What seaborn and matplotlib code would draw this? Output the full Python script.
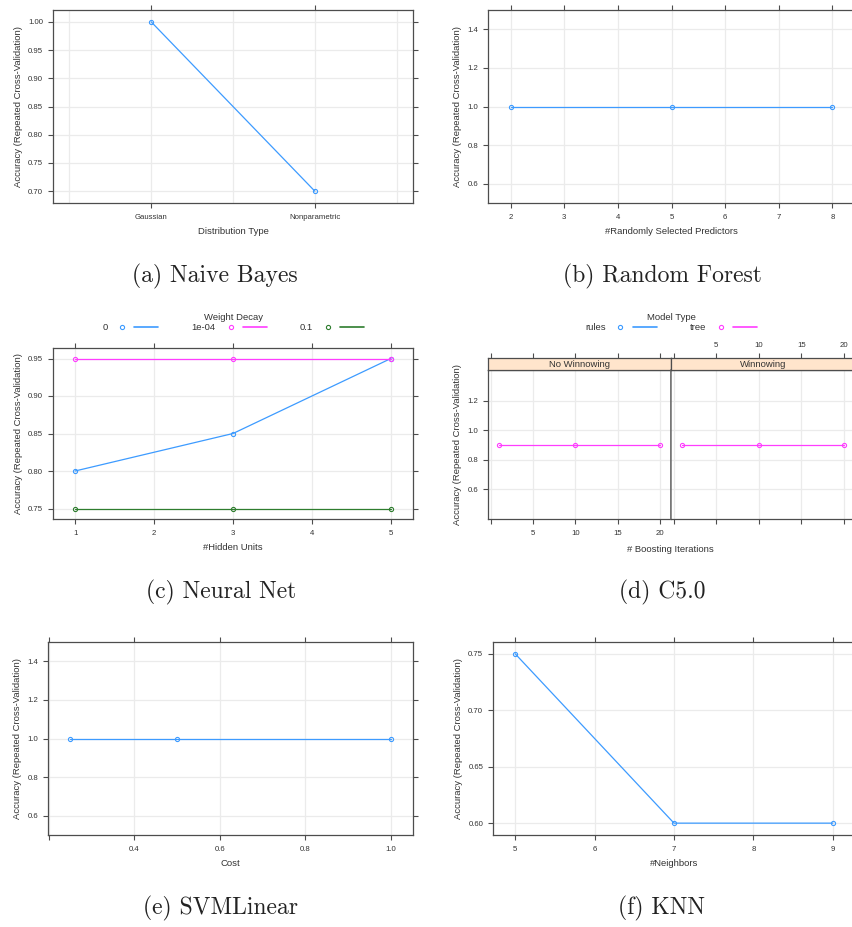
import numpy as np
import pandas as pd
import matplotlib
matplotlib.use("Agg")
import matplotlib.pyplot as plt
import seaborn as sns
from matplotlib.lines import Line2D
from matplotlib.legend_handler import HandlerTuple
from matplotlib.ticker import FormatStrFormatter

# (a) Naive Bayes
nb_types = ["Gaussian", "Nonparametric"]
nb_acc = [1.00, 0.70]

# (b) Random Forest
rf_mtry = [2, 5, 8]
rf_acc = [1.0, 1.0, 1.0]

# (c) Neural Net
nn_size = [1, 3, 5]
nn_decay = ["0", "1e-04", "0.1"]
nn_acc_0 = [0.80, 0.85, 0.95]
nn_acc_1e04 = [0.95, 0.95, 0.95]
nn_acc_01 = [0.75, 0.75, 0.75]

# (d) C5.0  (only the tree series is visible in the plot)
c50_trials = [1, 10, 20]
c50_model = ["rules", "tree"]
c50_winnow = ["No Winnowing", "Winnowing"]
c50_tree_nowin = [0.9, 0.9, 0.9]
c50_tree_win = [0.9, 0.9, 0.9]

# (e) SVMLinear
svm_cost = [0.25, 0.5, 1.0]
svm_acc = [1.0, 1.0, 1.0]

# (f) KNN
knn_k = [5, 7, 9]
knn_acc = [0.75, 0.60, 0.60]

captions = ["(a) Naive Bayes", "(b) Random Forest", "(c) Neural Net",
            "(d) C5.0", "(e) SVMLinear", "(f) KNN"]

sns.set_style("white")
plt.rcParams["font.family"] = ["Liberation Sans", "DejaVu Sans"]

BLUE = "#3d9bff"
PINK = "#ff3dff"
GREEN = "#2e7d2e"
EDGE = "#4d4d4d"
GRID = "#ebebeb"
TXT = "#333333"
YLAB = "Accuracy (Repeated Cross-Validation)"

W, H = 853, 927
fig = plt.figure(figsize=(W / 100, H / 100), dpi=100)


def px_axes(left, top, right, bottom):
    return fig.add_axes([left / W, 1 - bottom / H, (right - left) / W, (bottom - top) / H])


def style(ax, top=True, right=True, left=True, bottom=True):
    for s in ax.spines.values():
        s.set_visible(True)
        s.set_color(EDGE)
        s.set_linewidth(0.9)
    ax.tick_params(which="major", direction="out", length=3.6, width=0.8, color=EDGE,
                   labelsize=5.6, labelcolor=TXT,
                   top=top, right=right, left=left, bottom=bottom)
    ax.tick_params(axis="x", pad=4.5)
    ax.tick_params(axis="y", pad=3.5)
    ax.tick_params(which="minor", length=0)
    ax.grid(True, which="both", color=GRID, linewidth=0.9)
    ax.set_axisbelow(True)


def draw(ax, x, y, color):
    sns.lineplot(x=x, y=y, ax=ax, color=color, linewidth=0.9, marker="o",
                 markersize=3.0, markerfacecolor="none", markeredgecolor=color,
                 markeredgewidth=0.8, sort=False)


def labels(ax, xlabel, ypad=4):
    ax.set_xlabel(xlabel, fontsize=6.8, color=TXT, labelpad=4.5)
    ax.set_ylabel(YLAB, fontsize=6.8, color=TXT, labelpad=ypad)


def key_handles(cols):
    hs = []
    for c in cols:
        m = Line2D([], [], linestyle="none", marker="o", markersize=3.0,
                   markerfacecolor="none", markeredgecolor=c, markeredgewidth=0.8)
        l = Line2D([], [], color=c, linewidth=1.2)
        hs.append((m, l))
    return hs


def add_key(handles, names, title, cx):
    leg = fig.legend(handles, names, title=title, ncol=len(names),
                     loc="center", bbox_to_anchor=(cx / W, 1 - 322.5 / H), frameon=False,
                     markerfirst=False, handlelength=5.1, columnspacing=3.5,
                     handletextpad=0.3, fontsize=6.8, title_fontsize=6.8,
                     borderpad=0, labelspacing=0.2,
                     handler_map={tuple: HandlerTuple(ndivide=None, pad=0)})
    for t in leg.get_texts():
        t.set_color(TXT)
    leg.get_title().set_color(TXT)


# ---- (a) Naive Bayes
ax = px_axes(53, 10, 413, 203)
style(ax)
draw(ax, [1, 2], nb_acc, BLUE)
ax.set_xlim(0.4, 2.6)
ax.set_ylim(0.679, 1.021)
ax.set_xticks([1, 2])
ax.set_xticklabels(nb_types)
ax.set_xticks([0.5, 1.5, 2.5], minor=True)
ax.set_yticks([0.70, 0.75, 0.80, 0.85, 0.90, 0.95, 1.00])
ax.yaxis.set_major_formatter(FormatStrFormatter("%.2f"))
labels(ax, "Distribution Type")

# ---- (b) Random Forest
ax = px_axes(488, 10, 855, 203)
style(ax)
draw(ax, rf_mtry, rf_acc, BLUE)
ax.set_xlim(1.58, 8.42)
ax.set_ylim(0.5, 1.5)
ax.set_xticks(range(2, 9))
ax.set_yticks([0.6, 0.8, 1.0, 1.2, 1.4])
ax.yaxis.set_major_formatter(FormatStrFormatter("%.1f"))
labels(ax, "#Randomly Selected Predictors")

# ---- (c) Neural Net
ax = px_axes(53, 348, 413, 519)
style(ax)
nn_cols = [BLUE, PINK, GREEN]
for vals, col in zip([nn_acc_0, nn_acc_1e04, nn_acc_01], nn_cols):
    draw(ax, nn_size, vals, col)
ax.set_xlim(0.72, 5.28)
ax.set_ylim(0.736, 0.964)
ax.set_xticks(range(1, 6))
ax.set_yticks([0.75, 0.80, 0.85, 0.90, 0.95])
ax.yaxis.set_major_formatter(FormatStrFormatter("%.2f"))
labels(ax, "#Hidden Units")
add_key(key_handles(nn_cols), nn_decay, "Weight Decay", 233)

# ---- (d) C5.0
panels = [(488, 671, c50_tree_nowin), (671, 855, c50_tree_win)]
for i, (l, r, tree_v) in enumerate(panels):
    ax = px_axes(l, 370, r, 519)
    style(ax, top=False, left=(i == 0), right=(i == 1))
    draw(ax, c50_trials, tree_v, PINK)
    ax.set_xlim(-0.33, 21.33)
    ax.set_ylim(0.4, 1.41)
    ax.set_xticks([0, 5, 10, 15, 20])
    ax.set_yticks([0.6, 0.8, 1.0, 1.2])
    ax.yaxis.set_major_formatter(FormatStrFormatter("%.1f"))
    side = "left" if i == 1 else "right"
    ax.spines[side].set_linewidth(1.1)
    ax.spines[side].set_color("#707070")
    if i == 0:
        ax.set_xticklabels(["", "5", "10", "15", "20"])
        ax.set_ylabel(YLAB, fontsize=6.8, color=TXT, labelpad=4)
    else:
        ax.tick_params(labelbottom=False, labelleft=False)
    # strip
    st = px_axes(l, 358, r, 370)
    st.set_facecolor("#ffe5cc")
    for s in st.spines.values():
        s.set_color(EDGE)
        s.set_linewidth(0.9)
    st.set_xlim(-0.33, 21.33)
    st.set_yticks([])
    st.set_xticks([0, 5, 10, 15, 20])
    st.tick_params(axis="x", direction="out", length=3.6, width=0.8, color=EDGE,
                   top=True, bottom=False, labeltop=(i == 1), labelbottom=False,
                   labelsize=5.6, labelcolor=TXT, pad=3)
    if i == 1:
        st.set_xticklabels(["", "5", "10", "15", "20"])
    st.text(0.5, 0.45, c50_winnow[i], transform=st.transAxes, ha="center",
            va="center", fontsize=6.8, color=TXT)

fig.text(670 / W, 1 - 550 / H, "# Boosting Iterations", ha="center", va="center",
         fontsize=6.8, color=TXT)
add_key(key_handles([BLUE, PINK]), c50_model, "Model Type", 671)

# ---- (e) SVMLinear
ax = px_axes(48, 642, 413, 835)
style(ax)
draw(ax, svm_cost, svm_acc, BLUE)
ax.set_xlim(0.1975, 1.0525)
ax.set_ylim(0.5, 1.5)
ax.set_xticks([0.2, 0.4, 0.6, 0.8, 1.0])
ax.set_xticklabels(["", "0.4", "0.6", "0.8", "1.0"])
ax.set_yticks([0.6, 0.8, 1.0, 1.2, 1.4])
ax.yaxis.set_major_formatter(FormatStrFormatter("%.1f"))
labels(ax, "Cost")

# ---- (f) KNN
ax = px_axes(493, 642, 855, 835)
style(ax)
draw(ax, knn_k, knn_acc, BLUE)
ax.set_xlim(4.72, 9.28)
ax.set_ylim(0.5895, 0.7605)
ax.set_xticks(range(5, 10))
ax.set_yticks([0.60, 0.65, 0.70, 0.75])
ax.yaxis.set_major_formatter(FormatStrFormatter("%.2f"))
labels(ax, "#Neighbors")

# captions
cap_pos = [(215, 276), (662, 276), (221, 592), (662, 592), (221, 908), (661, 908)]
for (cx, cy), cap in zip(cap_pos, captions):
    fig.text(cx / W, 1 - cy / H, cap, ha="center", va="center", fontsize=17,
             family="cmr10", color="#222222")

fig.savefig("out.png", dpi=100)
